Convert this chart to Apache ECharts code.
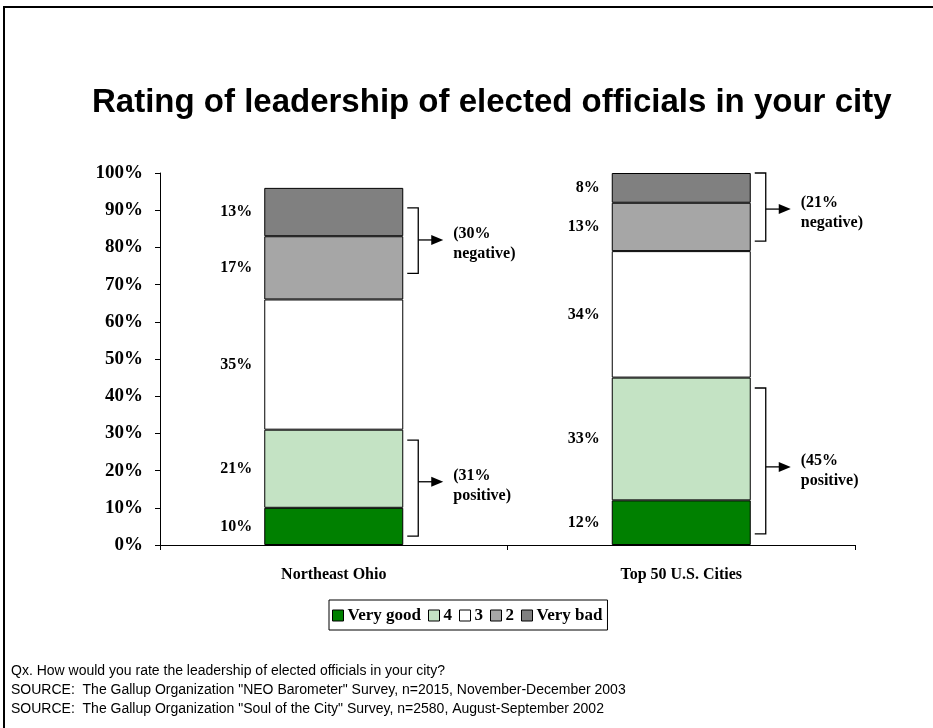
<!DOCTYPE html>
<html>
<head>
<meta charset="utf-8">
<script src="https://cdn.jsdelivr.net/npm/echarts@6/dist/echarts.min.js"></script>
<style>
  html, body { margin: 0; padding: 0; background: #fff; }
  #chart { width: 933px; height: 728px; }
</style>
</head>
<body>
<div id="chart"></div>
<script>
// Survey areas and response shares (percent)
var categories = ['Northeast Ohio', 'Top 50 U.S. Cities'];
var seriesNames = ['Very good', '4', '3', '2', 'Very bad'];
var veryGood = [10, 12];
var four = [21, 33];
var three = [35, 34];
var two = [17, 13];
var veryBad = [13, 8];
var yTicks = [0, 10, 20, 30, 40, 50, 60, 70, 80, 90, 100];

// Net summaries shown next to brackets: [category index, from %, to %, arrow level %, label]
var bracketNeg = [[0, 73, 90.6, 82, '(30%\nnegative)'], [1, 81.7, 100, 90.3, '(21%\nnegative)']];
var bracketPos = [[0, 2.4, 28.2, 17, '(31%\npositive)'], [1, 3, 42.2, 21, '(45%\npositive)']];

var serif = "'Liberation Serif', 'Times New Roman', serif";
var sans = "'Liberation Sans', Arial, sans-serif";
var colors = ['#008000', '#c4e3c4', '#ffffff', '#a6a6a6', '#808080'];
var values = [veryGood, four, three, two, veryBad];

var chart = echarts.init(document.getElementById('chart'), null, { renderer: 'canvas' });

var barSeries = seriesNames.map(function (name, i) {
  return {
    name: name,
    type: 'bar',
    stack: 'total',
    barWidth: '40%',
    data: values[i],
    itemStyle: { color: colors[i], borderColor: '#000', borderWidth: 1 },
    label: {
      show: true,
      position: 'left',
      distance: 12,
      formatter: '{c}%',
      color: '#000',
      fontFamily: serif,
      fontWeight: 'bold',
      fontSize: 16
    }
  };
});

function bracketRender(params, api) {
  var cat = api.value(0);
  var lo = api.coord([cat, api.value(1)]);
  var hi = api.coord([cat, api.value(2)]);
  var mid = api.coord([cat, api.value(3)]);
  var band = api.size([1, 0])[0];
  var xr = lo[0] + band * 0.2;
  var x0 = xr + 4, x1 = xr + 15, xa = xr + 40;
  return {
    type: 'group',
    children: [
      {
        type: 'polyline',
        shape: { points: [[x0, hi[1]], [x1, hi[1]], [x1, lo[1]], [x0, lo[1]]] },
        style: { stroke: '#000', lineWidth: 1.3, fill: null }
      },
      {
        type: 'line',
        shape: { x1: x1, y1: mid[1], x2: xa - 10, y2: mid[1] },
        style: { stroke: '#000', lineWidth: 1.3 }
      },
      {
        type: 'polygon',
        shape: { points: [[xa - 12, mid[1] - 5], [xa, mid[1]], [xa - 12, mid[1] + 5]] },
        style: { fill: '#000' }
      },
      {
        type: 'text',
        style: {
          x: xa + 10,
          y: mid[1] + 4,
          text: api.value(4),
          fill: '#000',
          font: 'bold 16px ' + serif,
          lineHeight: 20,
          align: 'left',
          verticalAlign: 'middle'
        }
      }
    ]
  };
}

var bracketData = bracketNeg.concat(bracketPos);

var option = {
  animation: false,
  backgroundColor: '#fff',
  title: {
    text: 'Rating of leadership of elected officials in your city',
    left: 87,
    top: 81,
    textStyle: { fontFamily: sans, fontWeight: 'bold', fontSize: 33, color: '#000' }
  },
  grid: { left: 160, right: 78, top: 173, bottom: 183, containLabel: false },
  xAxis: {
    type: 'category',
    data: categories,
    axisLine: { lineStyle: { color: '#000', width: 1 } },
    axisTick: { show: true, length: 5, lineStyle: { color: '#000' } },
    axisLabel: { color: '#000', fontFamily: serif, fontWeight: 'bold', fontSize: 16, margin: 22 }
  },
  yAxis: {
    type: 'value',
    min: yTicks[0],
    max: yTicks[yTicks.length - 1],
    interval: yTicks[1] - yTicks[0],
    splitLine: { show: false },
    axisLine: { show: true, lineStyle: { color: '#000', width: 1 } },
    axisTick: { show: true, length: 5, lineStyle: { color: '#000' } },
    axisLabel: { formatter: '{value}%', color: '#000', fontFamily: serif, fontWeight: 'bold', fontSize: 19, margin: 17 }
  },
  legend: {
    data: seriesNames,
    left: 329,
    top: 600,
    orient: 'horizontal',
    itemWidth: 11,
    itemHeight: 11,
    itemGap: 7,
    icon: 'rect',
    padding: [7, 5, 6, 3],
    borderColor: '#000',
    borderWidth: 1,
    selectedMode: false,
    textStyle: { color: '#000', fontFamily: serif, fontWeight: 'bold', fontSize: 17, padding: [0, 0, 0, -1] },
    itemStyle: { borderColor: '#000', borderWidth: 1 }
  },
  graphic: [
    {
      type: 'rect',
      shape: { x: 4, y: 7, width: 960, height: 760 },
      style: { fill: null, stroke: '#000', lineWidth: 2 },
      silent: true
    },
    {
      type: 'text',
      left: 11,
      top: 662,
      style: {
        text: 'Qx. How would you rate the leadership of elected officials in your city?\n' +
              'SOURCE:  The Gallup Organization "NEO Barometer" Survey, n=2015, November-December 2003\n' +
              'SOURCE:  The Gallup Organization "Soul of the City" Survey, n=2580, August-September 2002',
        font: '14px ' + sans,
        fill: '#000',
        lineHeight: 19
      }
    }
  ],
  series: barSeries.concat([{
    type: 'custom',
    name: 'brackets',
    renderItem: bracketRender,
    data: bracketData,
    encode: { x: 0, y: [1, 2] },
    silent: true,
    z: 5
  }])
};

chart.setOption(option);
</script>
</body>
</html>
